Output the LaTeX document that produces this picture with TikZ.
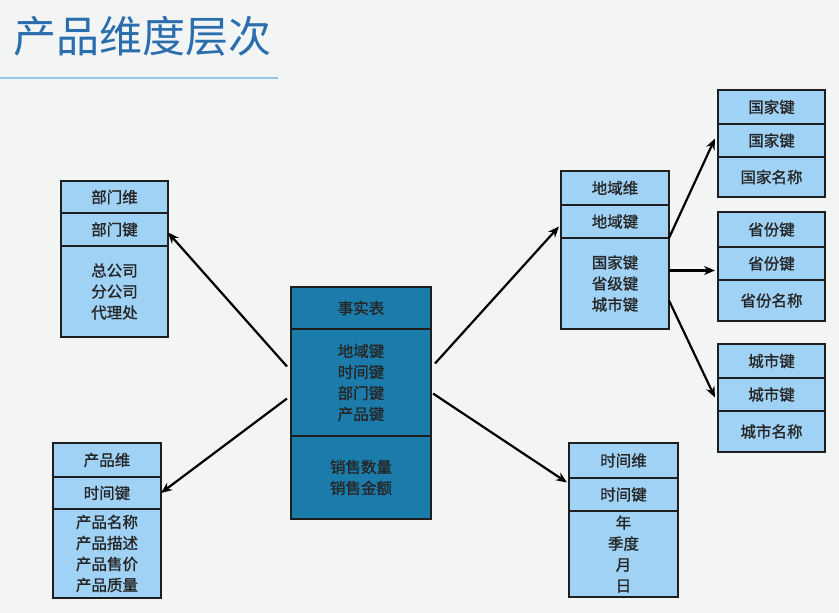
\documentclass[tikz,border=0pt]{standalone}
\usepackage{fontspec}
\setmainfont{Noto Sans CJK SC}
\newfontfamily\boxfont[FakeBold=1.2]{Noto Sans CJK SC}
\usetikzlibrary{positioning,arrows.meta}
\definecolor{bgcol}{RGB}{243,244,244}
\definecolor{titlecol}{RGB}{42,110,174}
\definecolor{rulecol}{RGB}{147,198,238}
\definecolor{dimcol}{RGB}{160,210,245}
\definecolor{factcol}{RGB}{27,124,171}
\definecolor{edgecol}{RGB}{30,30,30}

\begin{document}
\begin{tikzpicture}[x=1pt, y=-1pt,
	dim/.style = {draw=edgecol, line width=1.4pt, fill=dimcol, minimum width=108pt, inner sep=0pt, outer sep=0pt, align=center, font=\boxfont\fontsize{15.5}{21}\selectfont, text=black!85},
	fact/.style = {dim, fill=factcol, minimum width=140pt},
	link/.style = {-{Stealth[length=11pt,width=9pt]}, line width=2.2pt, black}]
	\fill[bgcol] (0,0) rectangle (839,613);
	\useasboundingbox (0,0) rectangle (839,613);
	\node[anchor=west, text=titlecol, font=\fontsize{43}{46}\selectfont] (title) at (10,36) {产品维度层次};
	\draw[rulecol, line width=1.3pt] (0,78) -- (278,78);
	% fact table
	\node[fact, minimum height=42pt, anchor=north west] (fact1) at (291,287) {事实表};
	\node[fact, minimum height=107pt] (fact2) [below=0pt of fact1] {地域键\\时间键\\部门键\\产品键};
	\node[fact, minimum height=83pt] (fact3) [below=0pt of fact2] {销售数量\\销售金额};
	% department
	\node[dim, minimum height=32pt, minimum width=107pt, anchor=north west] (dept1) at (61,181) {部门维};
	\node[dim, minimum height=33pt, minimum width=107pt] (dept2) [below=0pt of dept1] {部门键};
	\node[dim, minimum height=91pt, minimum width=107pt] (dept3) [below=0pt of dept2] {总公司\\分公司\\代理处};
	% product
	\node[dim, minimum height=34pt, anchor=north west] (prod1) at (53,443) {产品维};
	\node[dim, minimum height=32pt] (prod2) [below=0pt of prod1] {时间键};
	\node[dim, minimum height=89pt] (prod3) [below=0pt of prod2] {产品名称\\产品描述\\产品售价\\产品质量};
	% region
	\node[dim, minimum height=34pt, anchor=north west] (reg1) at (561,171) {地域维};
	\node[dim, minimum height=33pt] (reg2) [below=0pt of reg1] {地域键};
	\node[dim, minimum height=91pt] (reg3) [below=0pt of reg2] {国家键\\省级键\\城市键};
	% time
	\node[dim, minimum height=35pt, minimum width=109pt, anchor=north west] (time1) at (569,443) {时间维};
	\node[dim, minimum height=33pt, minimum width=109pt] (time2) [below=0pt of time1] {时间键};
	\node[dim, minimum height=86pt, minimum width=109pt] (time3) [below=0pt of time2] {年\\季度\\月\\日};
	% country
	\node[dim, minimum height=34pt, minimum width=107pt, anchor=north west] (ctry1) at (718,90) {国家键};
	\node[dim, minimum height=33pt, minimum width=107pt] (ctry2) [below=0pt of ctry1] {国家键};
	\node[dim, minimum height=40pt, minimum width=107pt] (ctry3) [below=0pt of ctry2] {国家名称};
	% province
	\node[dim, minimum height=35pt, minimum width=107pt, anchor=north west] (prov1) at (718,212) {省份键};
	\node[dim, minimum height=33pt, minimum width=107pt] (prov2) [below=0pt of prov1] {省份键};
	\node[dim, minimum height=41pt, minimum width=107pt] (prov3) [below=0pt of prov2] {省份名称};
	% city
	\node[dim, minimum height=34pt, minimum width=107pt, anchor=north west] (city1) at (718,344) {城市键};
	\node[dim, minimum height=33pt, minimum width=107pt] (city2) [below=0pt of city1] {城市键};
	\node[dim, minimum height=41pt, minimum width=107pt] (city3) [below=0pt of city2] {城市名称};
	% links
	\draw[link] ([xshift=-4pt, yshift=16pt]fact2.west) -- ([yshift=-3pt]dept2.east);
	\draw[link] ([xshift=-4pt, yshift=-16pt]fact2.west) -- (prod2.east);
	\draw[link] ([xshift=4pt, yshift=19pt]fact2.east) -- ([xshift=-2pt, yshift=-5pt]reg2.west);
	\draw[link] ([xshift=2pt, yshift=-11pt]fact2.east) -- ([xshift=-2pt, yshift=12pt]time2.west);
	\draw[link] (reg3.north east) -- ([xshift=-3pt, yshift=2pt]ctry2.west);
	\draw[link] ([yshift=13pt]reg3.east) -- ([xshift=-3pt, yshift=-7pt]prov2.west);
	\draw[link] ([yshift=-17pt]reg3.east) -- ([xshift=-3pt, yshift=-3pt]city2.west);
\end{tikzpicture}
\end{document}
